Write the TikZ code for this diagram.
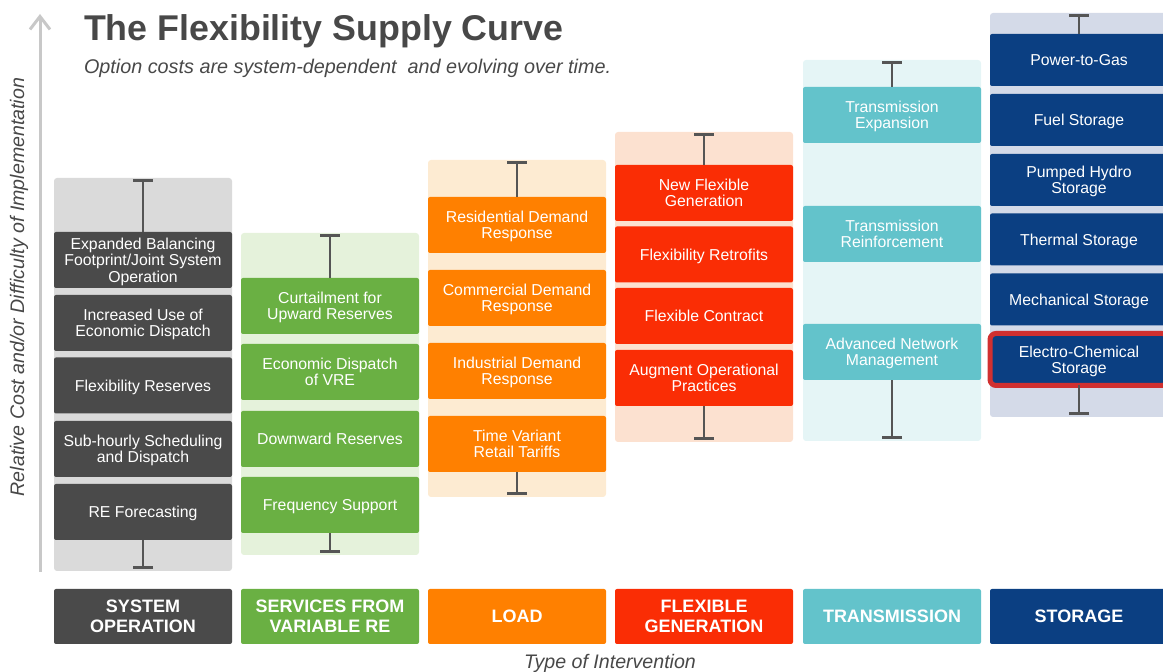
\documentclass[tikz,border=0pt]{standalone}
\usepackage{fontspec}
\setmainfont{Liberation Sans}
\usetikzlibrary{arrows.meta,positioning}

\definecolor{sogray}{RGB}{74,74,74}
\definecolor{regreen}{RGB}{106,176,67}
\definecolor{ldorange}{RGB}{255,128,0}
\definecolor{fgred}{RGB}{250,45,5}
\definecolor{trteal}{RGB}{99,195,203}
\definecolor{stnavy}{RGB}{11,63,130}
\definecolor{hlred}{RGB}{208,48,48}
\definecolor{titlegray}{RGB}{72,72,72}
\definecolor{axisgray}{RGB}{200,200,200}
\definecolor{bargray}{RGB}{85,85,85}
% column backgrounds (edge / middle)
\definecolor{sobg}{RGB}{218,218,218}
\definecolor{sobgm}{RGB}{243,243,243}
\definecolor{rebg}{RGB}{229,242,219}
\definecolor{rebgm}{RGB}{245,250,240}
\definecolor{ldbg}{RGB}{253,235,210}
\definecolor{ldbgm}{RGB}{254,245,233}
\definecolor{fgbg}{RGB}{252,225,208}
\definecolor{fgbgm}{RGB}{253,235,224}
\definecolor{trbg}{RGB}{229,245,246}
\definecolor{trbgm}{RGB}{250,253,253}
\definecolor{stbg}{RGB}{212,218,232}
\definecolor{stbgm}{RGB}{228,232,241}

\begin{document}
\begin{tikzpicture}
    [x=0.5pt,y=-0.5pt,every node/.style={inner sep=0pt,outer sep=0pt},
     opt/.style={rectangle,rounded corners=1pt,minimum width=89pt,minimum height=28pt,
       align=center,text=white,text depth=0pt,font=\fontsize{7.9}{8.2}\selectfont},
     stopt/.style={opt,fill=stnavy,minimum height=26pt},
     bgcol/.style={rectangle,rounded corners=1.5pt,minimum width=89pt},
     cat/.style={opt,minimum height=27.5pt,font=\bfseries\fontsize{9}{10}\selectfont},
     ebar/.style={bargray,line width=1pt,shorten <=0.75pt,{Bar[width=10pt,line width=1.5pt]}-}]
    \clip (0,0) rectangle (1163,672);

    % title and axes
    \node[anchor=base west,text=titlegray,font=\bfseries\fontsize{17.9}{20}\selectfont] (title) at (84,41)
      {The Flexibility Supply Curve};
    \node[anchor=base west,text=titlegray,font=\itshape\fontsize{9.9}{11}\selectfont] (subtitle) at (84,74)
      {Option costs are system-dependent\ \ and evolving over time.};
    \coordinate (ybot) at (40,572);
    \coordinate (ytop) at (40,14);
    \draw[axisgray,line width=1.5pt,-{Straight Barb[length=6.5pt,width=10pt]}] (ybot) -- (ytop);
    \node[rotate=90,text=titlegray,font=\itshape\fontsize{9.8}{11}\selectfont] (ylabel) at (19,287)
      {Relative Cost and/or Difficulty of Implementation};
    \node[text=titlegray,font=\itshape\fontsize{9.8}{11}\selectfont] (xlabel) at (610,663)
      {Type of Intervention};

    % column backgrounds
    \node[bgcol,minimum height=196.5pt,top color=sobg,middle color=sobgm,bottom color=sobg] (bg1) at (143,374.5) {};
    \node[bgcol,minimum height=161pt,top color=rebg,middle color=rebgm,bottom color=rebg] (bg2) at (330,394) {};
    \node[bgcol,minimum height=168.5pt,top color=ldbg,middle color=ldbgm,bottom color=ldbg] (bg3) at (517,328.5) {};
    \node[bgcol,minimum height=155pt,top color=fgbg,middle color=fgbgm,bottom color=fgbg] (bg4) at (704,287) {};
    \node[bgcol,minimum height=190.5pt,top color=trbg,middle color=trbgm,bottom color=trbg] (bg5) at (892,250.5) {};
    \node[bgcol,minimum height=202pt,top color=stbg,middle color=stbgm,bottom color=stbg] (bg6) at (1079,215) {};

    % system operation
    \node[opt,fill=sogray] (so1) at (143,260)   {Expanded Balancing\\Footprint/Joint System\\Operation};
    \node[opt,fill=sogray] (so2) at (143,323)   {Increased Use of\\Economic Dispatch};
    \node[opt,fill=sogray] (so3) at (143,385.5) {Flexibility Reserves};
    \node[opt,fill=sogray] (so4) at (143,449)   {Sub-hourly Scheduling\\and Dispatch};
    \node[opt,fill=sogray] (so5) at (143,512)   {RE Forecasting};

    % services from variable RE
    \node[opt,fill=regreen] (re1) at (330,306) {Curtailment for\\Upward Reserves};
    \node[opt,fill=regreen] (re2) at (330,372) {Economic Dispatch\\of VRE};
    \node[opt,fill=regreen] (re3) at (330,439) {Downward Reserves};
    \node[opt,fill=regreen] (re4) at (330,505) {Frequency Support};

    % load
    \node[opt,fill=ldorange] (ld1) at (517,225) {Residential Demand\\Response};
    \node[opt,fill=ldorange] (ld2) at (517,298) {Commercial Demand\\Response};
    \node[opt,fill=ldorange] (ld3) at (517,371) {Industrial Demand\\Response};
    \node[opt,fill=ldorange] (ld4) at (517,444) {Time Variant\\Retail Tariffs};

    % flexible generation
    \node[opt,fill=fgred] (fg1) at (704,193)   {New Flexible\\Generation};
    \node[opt,fill=fgred] (fg2) at (704,254.5) {Flexibility Retrofits};
    \node[opt,fill=fgred] (fg3) at (704,316)   {Flexible Contract};
    \node[opt,fill=fgred] (fg4) at (704,378)   {Augment Operational\\Practices};

    % transmission
    \node[opt,fill=trteal] (tr1) at (892,115) {Transmission\\Expansion};
    \node[opt,fill=trteal] (tr2) at (892,234) {Transmission\\Reinforcement};
    \node[opt,fill=trteal] (tr3) at (892,352) {Advanced Network\\Management};

    % storage
    \node[stopt] (st1) at (1079,60)    {Power-to-Gas};
    \node[stopt] (st2) at (1079,120)   {Fuel Storage};
    \node[stopt] (st3) at (1079,180)   {Pumped Hydro\\Storage};
    \node[stopt] (st4) at (1079,239.5) {Thermal Storage};
    \node[stopt] (st5) at (1079,299.5) {Mechanical Storage};
    \node[stopt,draw=hlred,line width=2.5pt,rounded corners=3pt] (st6) at (1079,359.5) {Electro-Chemical\\Storage};

    % error bars
    \foreach \col/\first/\last in {1/so1/so5,2/re1/re4,3/ld1/ld4,4/fg1/fg4,5/tr1/tr3,6/st1/st6}{
      \draw[ebar] (bg\col.north) -- (\first.north);
      \draw[ebar] (bg\col.south) -- (\last.south);
    }

    % categories
    \node[cat,fill=sogray]   (c1) at (143,616.5)  {SYSTEM\\OPERATION};
    \node[cat,fill=regreen]  (c2) at (330,616.5)  {SERVICES FROM\\VARIABLE RE};
    \node[cat,fill=ldorange] (c3) at (517,616.5)  {LOAD};
    \node[cat,fill=fgred]    (c4) at (704,616.5)  {FLEXIBLE\\GENERATION};
    \node[cat,fill=trteal]   (c5) at (892,616.5)  {TRANSMISSION};
    \node[cat,fill=stnavy]   (c6) at (1079,616.5) {STORAGE};
\end{tikzpicture}
\end{document}
